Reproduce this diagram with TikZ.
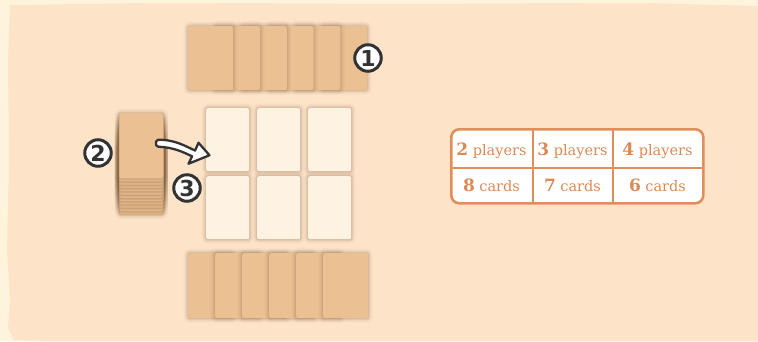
\documentclass[tikz,border=0pt]{standalone}
\usepackage{fontspec}
\newfontfamily\tabfont{DejaVu Serif}
\newfontfamily\numfont{DejaVu Sans}
\definecolor{cream}{HTML}{FEF3DB}
\definecolor{peach}{HTML}{FDE4C9}
\definecolor{cardtan}{HTML}{EBC194}
\definecolor{cardedge}{HTML}{D8AA7C}
\definecolor{cardwhite}{HTML}{FEF2E3}
\definecolor{shade}{HTML}{8A6644}
\definecolor{tblorange}{HTML}{E08F5A}
\definecolor{tbltext}{HTML}{DB8A56}
\definecolor{inkdark}{HTML}{333333}
\tikzset{
  glow/.style={preaction={draw=shade, draw opacity=0.05, line width=9pt},
    preaction={draw=shade, draw opacity=0.07, line width=6pt},
    preaction={draw=shade, draw opacity=0.10, line width=3.5pt},
    preaction={draw=shade, draw opacity=0.14, line width=1.5pt}},
  tancard/.style={glow, fill=cardtan, rounded corners=2pt, inner sep=0pt, anchor=north west,
    minimum width=45pt, minimum height=64pt},
  deckcard/.style={tancard, draw=cardedge, line width=0.5pt, minimum width=44pt, minimum height=65pt},
  slotcard/.style={glow, fill=cardwhite, rounded corners=2pt, inner sep=0pt, anchor=north west,
    minimum width=43pt, minimum height=63pt},
  numcirc/.style={circle, draw=inkdark, line width=3pt, fill=white, minimum size=26.5pt,
    inner sep=0pt, font=\numfont\bfseries\fontsize{22}{22}\selectfont, text=inkdark},
  tblbox/.style={draw=tblorange, line width=2.6pt, fill=white, rounded corners=8pt,
    anchor=north west, minimum width=252pt, minimum height=74pt},
  tblline/.style={draw=tblorange, line width=2pt},
  celltext/.style={anchor=base, inner sep=0pt, text=tbltext, font=\tabfont},
}
\newcommand{\cellnum}[2]{{\fontsize{17}{17}\selectfont\bfseries #1}\hspace{4.5pt}{\fontsize{14.5}{14.5}\selectfont #2}}
\begin{document}
\begin{tikzpicture}[x=1pt, y=-1pt]
  \useasboundingbox (0,0) rectangle (758,341);
  \fill[cream] (0,0) rectangle (758,341);
  \fill[peach] (10,5) -- (160,3) -- (400,4) -- (640,3) -- (720,5) -- (758,6) -- (758,341)
    -- (40,341) -- (14,340) -- (8,328) -- (10,300) -- (7,250) -- (9,160) -- (8,60) -- cycle;

  % six places in the middle
  \foreach \col/\cx in {1/206,2/257,3/308}
    \foreach \row/\cy in {1/108,2/176}
      \node[slotcard] (slot\row\col) at (\cx,\cy) {};

  % top row, left card on top
  \foreach \k in {6,...,1}
    \node[tancard] (top\k) at ({188+26.8*(\k-1)},26) {};

  % bottom row, right card on top
  \foreach \k in {1,...,6}
    \node[tancard, minimum height=65pt] (bot\k) at ({188+27*(\k-1)},253) {};

  % deck
  \foreach \i in {11,...,1}
    \node[deckcard] (deck\i) at (119,{113+3.3*\i}) {};
  \node[deckcard, draw=none] (deck) at (119,113) {};

  % arrow from deck to first place
  \begin{scope}[shift={(deck.east)}]
    \draw[inkdark, fill=white, line width=2.3pt, line join=round]
      (-5,-6) .. controls (12,-6) and (22,0.5) .. (31.6,4.8)
      -- (35,-3) -- (46,9.5) -- (25,18) -- (28.6,10.6)
      .. controls (20,6.5) and (10,1.5) .. (-5,1)
      .. controls (-8.5,1) and (-8.5,-6) .. cycle;
  \end{scope}

  \node[numcirc] (n1) at (368,58) {1};
  \node[numcirc] (n2) at (98,153) {2};
  \node[numcirc] (n3) at (187,188) {3};

  % table
  \node[tblbox] (tbl) at (450,128) {};
  \draw[tblline] (450,168) -- (702,168);
  \draw[tblline] (533,128) -- (533,202);
  \draw[tblline] (613,128) -- (613,202);
  \node[celltext] (p2) at (491.5,155.5) {\cellnum{2}{players}};
  \node[celltext] (p3) at (572.5,155.5) {\cellnum{3}{players}};
  \node[celltext] (p4) at (657.5,155.5) {\cellnum{4}{players}};
  \node[celltext] (c8) at (491.5,191.5) {\cellnum{8}{cards}};
  \node[celltext] (c7) at (572.5,191.5) {\cellnum{7}{cards}};
  \node[celltext] (c6) at (657.5,191.5) {\cellnum{6}{cards}};
\end{tikzpicture}
\end{document}
